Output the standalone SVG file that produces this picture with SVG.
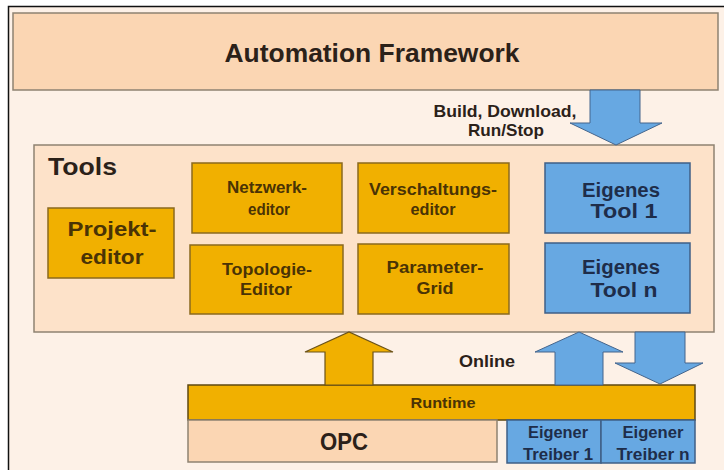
<svg xmlns="http://www.w3.org/2000/svg" width="724" height="470" viewBox="0 0 724 470">
  <style>
    text { font-family: "Liberation Sans", Arial, sans-serif; font-weight: bold; text-anchor: middle; }
    .frame { fill: #fdf1e7; stroke: #111; stroke-width: 1.5; }
    .peach { fill: #fbd6b3; stroke: #8e8272; stroke-width: 1.5; }
    .tools { fill: #fde2c9; stroke: #8e8272; stroke-width: 1.5; }
    .gold { fill: #f1b000; stroke: #8a6a1e; stroke-width: 1.5; }
    .blue { fill: #67a8e2; stroke: #3f5f86; stroke-width: 1.5; }
    .arrow-gold { fill: #f1b000; stroke: #6b5218; stroke-width: 1.2; stroke-linejoin: miter; }
    .arrow-blue { fill: #67a8e2; stroke: #45658c; stroke-width: 1; stroke-linejoin: miter; }
    .t-dark { fill: #2b2119; }
    .t-gold { fill: #4a3305; }
    .t-blue { fill: #1e2d4a; }
  </style>

  <!-- outer frame -->
  <rect class="frame" x="8.5" y="6.5" width="730" height="480"/>

  <g id="automation-framework">
    <rect class="peach" x="13" y="13" width="705" height="77"/>
    <text class="t-dark" x="372" y="62" font-size="26" textLength="295" lengthAdjust="spacingAndGlyphs">Automation Framework</text>
  </g>

  <g id="tools">
    <rect class="tools" x="34" y="145" width="680" height="187"/>
    <text class="t-dark" x="48" y="175" font-size="24" style="text-anchor:start" textLength="69" lengthAdjust="spacingAndGlyphs">Tools</text>
  </g>

  <g id="projekteditor">
    <rect class="gold" x="48" y="208" width="126" height="70"/>
    <text class="t-gold" x="112" y="236" font-size="21" textLength="89" lengthAdjust="spacingAndGlyphs">Projekt-</text>
    <text class="t-gold" x="112" y="264" font-size="21" textLength="63" lengthAdjust="spacingAndGlyphs">editor</text>
  </g>

  <g id="netzwerkeditor">
    <rect class="gold" x="192" y="163" width="150" height="70"/>
    <text class="t-gold" x="267" y="193" font-size="16" textLength="80" lengthAdjust="spacingAndGlyphs">Netzwerk-</text>
    <text class="t-gold" x="269" y="215" font-size="16" textLength="42" lengthAdjust="spacingAndGlyphs">editor</text>
  </g>

  <g id="topologieeditor">
    <rect class="gold" x="190" y="245" width="153" height="69"/>
    <text class="t-gold" x="267" y="275" font-size="16" textLength="90" lengthAdjust="spacingAndGlyphs">Topologie-</text>
    <text class="t-gold" x="266" y="295" font-size="16" textLength="52" lengthAdjust="spacingAndGlyphs">Editor</text>
  </g>

  <g id="verschaltungseditor">
    <rect class="gold" x="358" y="163" width="151" height="70"/>
    <text class="t-gold" x="433" y="195" font-size="16" textLength="128" lengthAdjust="spacingAndGlyphs">Verschaltungs-</text>
    <text class="t-gold" x="433" y="215" font-size="16" textLength="45" lengthAdjust="spacingAndGlyphs">editor</text>
  </g>

  <g id="parametergrid">
    <rect class="gold" x="358" y="244" width="151" height="70"/>
    <text class="t-gold" x="435" y="273" font-size="16" textLength="97" lengthAdjust="spacingAndGlyphs">Parameter-</text>
    <text class="t-gold" x="435" y="294" font-size="16" textLength="37" lengthAdjust="spacingAndGlyphs">Grid</text>
  </g>

  <g id="eigenes-tool-1">
    <rect class="blue" x="545" y="163" width="145" height="70"/>
    <text class="t-blue" x="621" y="197" font-size="20" textLength="78" lengthAdjust="spacingAndGlyphs">Eigenes</text>
    <text class="t-blue" x="624" y="218" font-size="20" textLength="67" lengthAdjust="spacingAndGlyphs">Tool 1</text>
  </g>

  <g id="eigenes-tool-n">
    <rect class="blue" x="545" y="243" width="145" height="70"/>
    <text class="t-blue" x="621" y="274" font-size="20" textLength="78" lengthAdjust="spacingAndGlyphs">Eigenes</text>
    <text class="t-blue" x="624" y="297" font-size="20" textLength="67" lengthAdjust="spacingAndGlyphs">Tool n</text>
  </g>

  <g id="runtime">
    <rect class="gold" x="188" y="385" width="507" height="35" style="stroke:#5e4812"/>
    <text class="t-gold" x="443" y="408" font-size="14" textLength="65" lengthAdjust="spacingAndGlyphs">Runtime</text>
  </g>

  <g id="opc">
    <rect class="peach" x="188" y="420" width="309" height="42"/>
    <text class="t-dark" x="344" y="450" font-size="23" textLength="48" lengthAdjust="spacingAndGlyphs">OPC</text>
  </g>

  <g id="eigener-treiber-1">
    <rect class="blue" x="507" y="420" width="94" height="43"/>
    <text class="t-blue" x="558" y="438" font-size="16" textLength="60" lengthAdjust="spacingAndGlyphs">Eigener</text>
    <text class="t-blue" x="558" y="460" font-size="16" textLength="70" lengthAdjust="spacingAndGlyphs">Treiber 1</text>
  </g>

  <g id="eigener-treiber-n">
    <rect class="blue" x="601" y="420" width="94" height="43"/>
    <text class="t-blue" x="653" y="438" font-size="16" textLength="61" lengthAdjust="spacingAndGlyphs">Eigener</text>
    <text class="t-blue" x="653" y="460" font-size="16" textLength="73" lengthAdjust="spacingAndGlyphs">Treiber n</text>
  </g>

  <!-- connectors: block arrows between layers -->
  <g id="connectors">
    <polygon class="arrow-blue" points="590,90 640,90 640,123 662,123 616,145 570,123 590,123"/>
    <polygon class="arrow-gold" points="325,385 325,352 305,352 349,332 393,352 373,352 373,385"/>
    <polygon class="arrow-blue" points="555,385 555,352 535,352 579,332 623,352 603,352 603,385"/>
    <polygon class="arrow-blue" points="635,332 685,332 685,363 703,363 660,384 615,363 635,363"/>
    <text class="t-dark" x="505" y="117" font-size="17" textLength="143" lengthAdjust="spacingAndGlyphs">Build, Download,</text>
    <text class="t-dark" x="506" y="136" font-size="17" textLength="76" lengthAdjust="spacingAndGlyphs">Run/Stop</text>
    <text class="t-dark" x="487" y="367" font-size="16" textLength="56" lengthAdjust="spacingAndGlyphs">Online</text>
  </g>
</svg>
